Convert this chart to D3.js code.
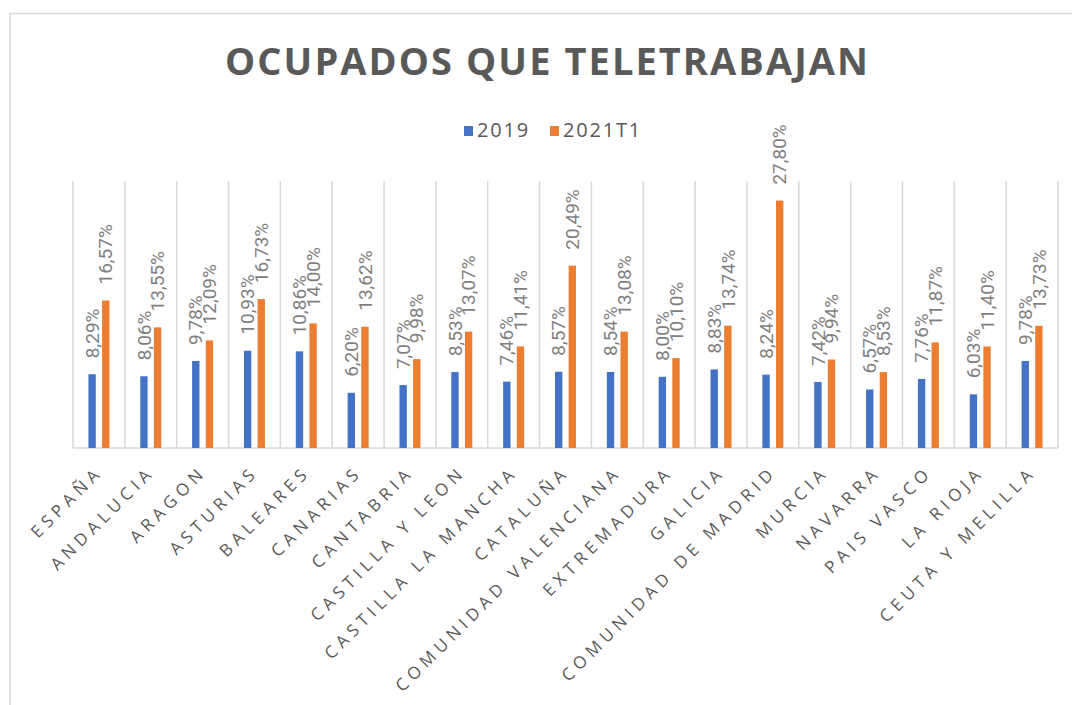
<!DOCTYPE html>
<html>
<head>
<meta charset="utf-8">
<script src="https://cdn.jsdelivr.net/npm/d3@7"></script>
<style>
  body { margin: 0; background: #fff; }
  svg { display: block; }
</style>
</head>
<body>
<div id="chart"></div>
<script>
var categories = ["ESPAÑA", "ANDALUCIA", "ARAGON", "ASTURIAS", "BALEARES", "CANARIAS",
  "CANTABRIA", "CASTILLA Y LEON", "CASTILLA LA MANCHA", "CATALUÑA", "COMUNIDAD VALENCIANA",
  "EXTREMADURA", "GALICIA", "COMUNIDAD DE MADRID", "MURCIA", "NAVARRA", "PAIS VASCO",
  "LA RIOJA", "CEUTA Y MELILLA"];
var series = ["2019", "2021T1"];
var values2019 = [8.29, 8.06, 9.78, 10.93, 10.86, 6.20, 7.07, 8.53, 7.46, 8.57, 8.54,
  8.00, 8.83, 8.24, 7.42, 6.57, 7.76, 6.03, 9.78];
var values2021 = [16.57, 13.55, 12.09, 16.73, 14.00, 13.62, 9.98, 13.07, 11.41, 20.49, 13.08,
  10.10, 13.74, 27.80, 9.94, 8.53, 11.87, 11.40, 13.73];
var colors = ["#4472C4", "#ED7D31"];

var width = 1072, height = 705;
var plot = {left: 73, right: 1058, top: 181, bottom: 448};

var svg = d3.select("#chart").append("svg")
    .attr("width", width)
    .attr("height", height);

// chart frame
svg.append("path")
    .attr("d", "M10," + height + "V13.5H" + width)
    .attr("fill", "none")
    .attr("stroke", "#d9d9d9")
    .attr("stroke-width", 1.5);

// title
svg.append("text")
    .attr("x", 546.5)
    .attr("y", 75)
    .attr("text-anchor", "middle")
    .attr("fill", "#595959")
    .attr("font-family", "'Open Sans', sans-serif")
    .attr("font-weight", "bold")
    .attr("font-size", 38)
    .attr("textLength", 643)
    .attr("lengthAdjust", "spacing")
    .text("OCUPADOS QUE TELETRABAJAN");

// legend
var legendX = [464, 550];
var legend = svg.append("g").selectAll("g")
    .data(series)
  .enter().append("g")
    .attr("transform", function(d, i) { return "translate(" + legendX[i] + ",0)"; });
legend.append("rect")
    .attr("x", 0).attr("y", 126)
    .attr("width", 9).attr("height", 10)
    .attr("fill", function(d, i) { return colors[i]; });
legend.append("text")
    .attr("x", 13).attr("y", 137)
    .attr("fill", "#595959")
    .attr("font-family", "'Open Sans', sans-serif")
    .attr("font-size", 20)
    .attr("letter-spacing", 1.8)
    .text(function(d) { return d; });

var x0 = d3.scaleBand()
    .domain(categories)
    .range([plot.left, plot.right]);

var x1 = d3.scaleBand()
    .domain(series)
    .range([x0.bandwidth() / 2 - 10.5, x0.bandwidth() / 2 + 10.5])
    .paddingInner(0.46);

var y = d3.scaleLinear()
    .domain([0, 30])
    .range([plot.bottom, plot.top]);

// vertical category dividers
var bounds = categories.map(function(c) { return x0(c); }).concat([plot.right]);
svg.append("g").selectAll("line")
    .data(bounds)
  .enter().append("line")
    .attr("x1", function(d) { return d; })
    .attr("x2", function(d) { return d; })
    .attr("y1", plot.top)
    .attr("y2", plot.bottom)
    .attr("stroke", "#d9d9d9")
    .attr("stroke-width", 1.5);

svg.append("line")
    .attr("x1", plot.left).attr("x2", plot.right)
    .attr("y1", plot.bottom).attr("y2", plot.bottom)
    .attr("stroke", "#d9d9d9")
    .attr("stroke-width", 1.5);

var rows = categories.map(function(c, i) {
  return {cat: c, vals: [
    {key: series[0], value: values2019[i], color: colors[0]},
    {key: series[1], value: values2021[i], color: colors[1]}
  ]};
});

var fmt = d3.formatLocale({decimal: ",", thousands: ".", grouping: [3], currency: ["", "€"]}).format(".2f");

var groups = svg.append("g").selectAll("g")
    .data(rows)
  .enter().append("g")
    .attr("transform", function(d) { return "translate(" + x0(d.cat) + ",0)"; });

groups.selectAll("rect")
    .data(function(d) { return d.vals; })
  .enter().append("rect")
    .attr("x", function(d) { return x1(d.key); })
    .attr("y", function(d) { return y(d.value); })
    .attr("width", x1.bandwidth())
    .attr("height", function(d) { return plot.bottom - y(d.value); })
    .attr("fill", function(d) { return d.color; });

groups.selectAll("text")
    .data(function(d) { return d.vals; })
  .enter().append("text")
    .attr("transform", function(d) {
      return "translate(" + (x1(d.key) + x1.bandwidth() / 2) + "," + (y(d.value) - 16) + ") rotate(-90)";
    })
    .attr("dy", "0.35em")
    .attr("fill", "#7f7f7f")
    .attr("font-family", "Roboto, sans-serif")
    .attr("font-size", 19)
    .text(function(d) { return fmt(d.value) + "%"; });

// category labels
svg.append("g").selectAll("text")
    .data(categories)
  .enter().append("text")
    .attr("transform", function(d) {
      return "translate(" + (x0(d) + x0.bandwidth() / 2 + 5) + "," + (plot.bottom + 25) + ") rotate(-45)";
    })
    .attr("text-anchor", "end")
    .attr("fill", "#595959")
    .attr("font-family", "'Open Sans', sans-serif")
    .attr("font-size", 17)
    .attr("letter-spacing", 5)
    .text(function(d) { return d; });
</script>
</body>
</html>
